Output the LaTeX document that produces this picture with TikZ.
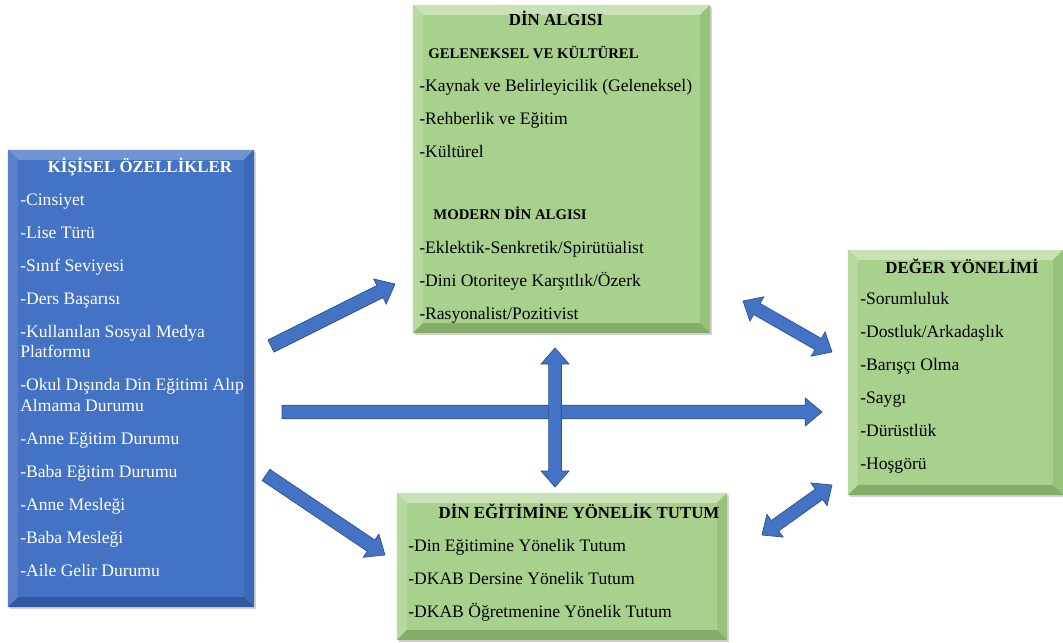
\documentclass[tikz,border=0pt]{standalone}
\usepackage{fontspec}
\setmainfont{Liberation Serif}
\usetikzlibrary{calc,shadows}

\definecolor{mavi}{HTML}{4472C4}
\definecolor{maviA}{HTML}{7093D4}
\definecolor{maviS}{HTML}{5A80CA}
\definecolor{maviR}{HTML}{3D68B6}
\definecolor{maviK}{HTML}{30589E}
\definecolor{okkenar}{HTML}{2F528F}
\definecolor{yesil}{HTML}{A9D18E}
\definecolor{yesilA}{HTML}{C8E2B6}
\definecolor{yesilS}{HTML}{B7D99F}
\definecolor{yesilR}{HTML}{96C27A}
\definecolor{yesilK}{HTML}{84AE68}

\tikzset{
  bevel/.style n args={4}{path picture={
    \path (path picture bounding box.north west) coordinate (bnw)
          (path picture bounding box.north east) coordinate (bne)
          (path picture bounding box.south east) coordinate (bse)
          (path picture bounding box.south west) coordinate (bsw);
    \fill[#1] (bnw) -- (bne) -- ($(bne)+(-0.25cm,-0.25cm)$) -- ($(bnw)+(0.25cm,-0.25cm)$) -- cycle;
    \fill[#2] (bnw) -- (bsw) -- ($(bsw)+(0.25cm,0.25cm)$) -- ($(bnw)+(0.25cm,-0.25cm)$) -- cycle;
    \fill[#3] (bne) -- (bse) -- ($(bse)+(-0.25cm,0.25cm)$) -- ($(bne)+(-0.25cm,-0.25cm)$) -- cycle;
    \fill[#4] (bsw) -- (bse) -- ($(bse)+(-0.25cm,0.25cm)$) -- ($(bsw)+(0.25cm,0.25cm)$) -- cycle;
  }},
  kutu/.style={rectangle, inner sep=0pt,
    drop shadow={shadow xshift=1.2pt, shadow yshift=-1.5pt, opacity=0.35}},
  mavikutu/.style={kutu, fill=mavi, bevel={maviA}{maviS}{maviR}{maviK}},
  yesilkutu/.style={kutu, fill=yesil, bevel={yesilA}{yesilS}{yesilR}{yesilK}},
  baslik/.style={font=\bfseries\fontsize{12}{14}\selectfont, anchor=base, inner sep=0pt},
  liste/.style={font=\fontsize{12.5}{23.5}\selectfont, align=left, anchor=north west, inner sep=0pt},
  blokok/.style={fill=mavi, draw=okkenar, line width=0.5pt, line join=miter}
}
\newcommand{\altb}{\bfseries\fontsize{10.5}{12}\selectfont}

% block arrow, tail at #1, tip at #2
\newcommand{\tekok}[2]{%
  \path ($(#2)!0.42cm!(#1)$) coordinate (boyun);
  \filldraw[blokok] ($(#1)!0.17cm!90:(#2)$) -- ($(boyun)!0.17cm!90:(#2)$)
    -- ($(boyun)!0.35cm!90:(#2)$) -- (#2) -- ($(boyun)!0.35cm!-90:(#2)$)
    -- ($(boyun)!0.17cm!-90:(#2)$) -- ($(#1)!0.17cm!-90:(#2)$) -- cycle;}
% block arrow with two heads
\newcommand{\ciftok}[2]{%
  \path ($(#1)!0.4cm!(#2)$) coordinate (boyunA) ($(#2)!0.4cm!(#1)$) coordinate (boyunB);
  \filldraw[blokok] (#1) -- ($(boyunA)!0.35cm!90:(#2)$) -- ($(boyunA)!0.16cm!90:(#2)$)
    -- ($(boyunB)!0.16cm!90:(#2)$) -- ($(boyunB)!0.35cm!90:(#2)$) -- (#2)
    -- ($(boyunB)!0.35cm!-90:(#2)$) -- ($(boyunB)!0.16cm!-90:(#2)$)
    -- ($(boyunA)!0.16cm!-90:(#2)$) -- ($(boyunA)!0.35cm!-90:(#2)$) -- cycle;}

\begin{document}
\begin{tikzpicture}[x=0.025cm, y=-0.025cm]
  \useasboundingbox (0,0) rectangle (1063,643);

  % boxes
  \node[mavikutu, minimum width=6.15cm, minimum height=11.425cm] (kisisel) at (131,378.5) {};
  \node[yesilkutu, minimum width=7.425cm, minimum height=8.2cm] (algi) at (561.5,169) {};
  \node[yesilkutu, minimum width=8.25cm, minimum height=3.675cm] (tutum) at (562,566.5) {};
  \node[yesilkutu, minimum width=5.375cm, minimum height=6.125cm] (deger) at (955.5,372.5) {};

  % titles
  \node[baslik, text=white] (kisiselB) at (140,173) {KİŞİSEL ÖZELLİKLER};
  \node[baslik] (algiB) at (556,26) {DİN ALGISI};
  \node[baslik] (tutumB) at (579,518) {DİN EĞİTİMİNE YÖNELİK TUTUM};
  \node[baslik] (degerB) at (962,273) {DEĞER YÖNELİMİ};

  % lists
  \node[liste, text=white] (kisiselL) at (20,189.5) {\rule{0pt}{11pt}-Cinsiyet\\ -Lise Türü\\
    -Sınıf Seviyesi\\ -Ders Başarısı\\ -Kullanılan Sosyal Medya\\[-9pt] Platformu\\
    -Okul Dışında Din Eğitimi Alıp\\[-9pt] Almama Durumu\\ -Anne Eğitim Durumu\\
    -Baba Eğitim Durumu\\ -Anne Mesleği\\ -Baba Mesleği\\ -Aile Gelir Durumu};
  \node[liste] (algiL) at (419,42.5) {\rule{0pt}{11pt}\hspace*{6.4pt}{\altb GELENEKSEL VE KÜLTÜREL}\\
    -Kaynak ve Belirleyicilik (Geleneksel)\\ -Rehberlik ve Eğitim\\ -Kültürel\\[21pt]
    \hspace*{10pt}{\altb MODERN DİN ALGISI}\\ -Eklektik-Senkretik/Spirütüalist\\
    -Dini Otoriteye Karşıtlık/Özerk\\ -Rasyonalist/Pozitivist};
  \node[liste] (tutumL) at (408,535.5) {\rule{0pt}{11pt}-Din Eğitimine Yönelik Tutum\\
    -DKAB Dersine Yönelik Tutum\\ -DKAB Öğretmenine Yönelik Tutum};
  \node[liste] (degerL) at (860,288.5) {\rule{0pt}{11pt}-Sorumluluk\\ -Dostluk/Arkadaşlık\\
    -Barışçı Olma\\ -Saygı\\ -Dürüstlük\\ -Hoşgörü};

  % arrow ends
  \coordinate (o1a) at (271,346);  \coordinate (o1b) at (395,284);
  \coordinate (o2a) at (282,412);  \coordinate (o2b) at (822,412);
  \coordinate (o3a) at (266,475);  \coordinate (o3b) at (385,555);
  \coordinate (o4a) at (555,348);  \coordinate (o4b) at (555,487);
  \coordinate (o5a) at (743,301);  \coordinate (o5b) at (832,352);
  \coordinate (o6a) at (762,535);  \coordinate (o6b) at (832,485);

  % arrows
  \tekok{o1a}{o1b}
  \tekok{o2a}{o2b}
  \tekok{o3a}{o3b}
  \ciftok{o4a}{o4b}
  \ciftok{o5a}{o5b}
  \ciftok{o6a}{o6b}
\end{tikzpicture}
\end{document}
